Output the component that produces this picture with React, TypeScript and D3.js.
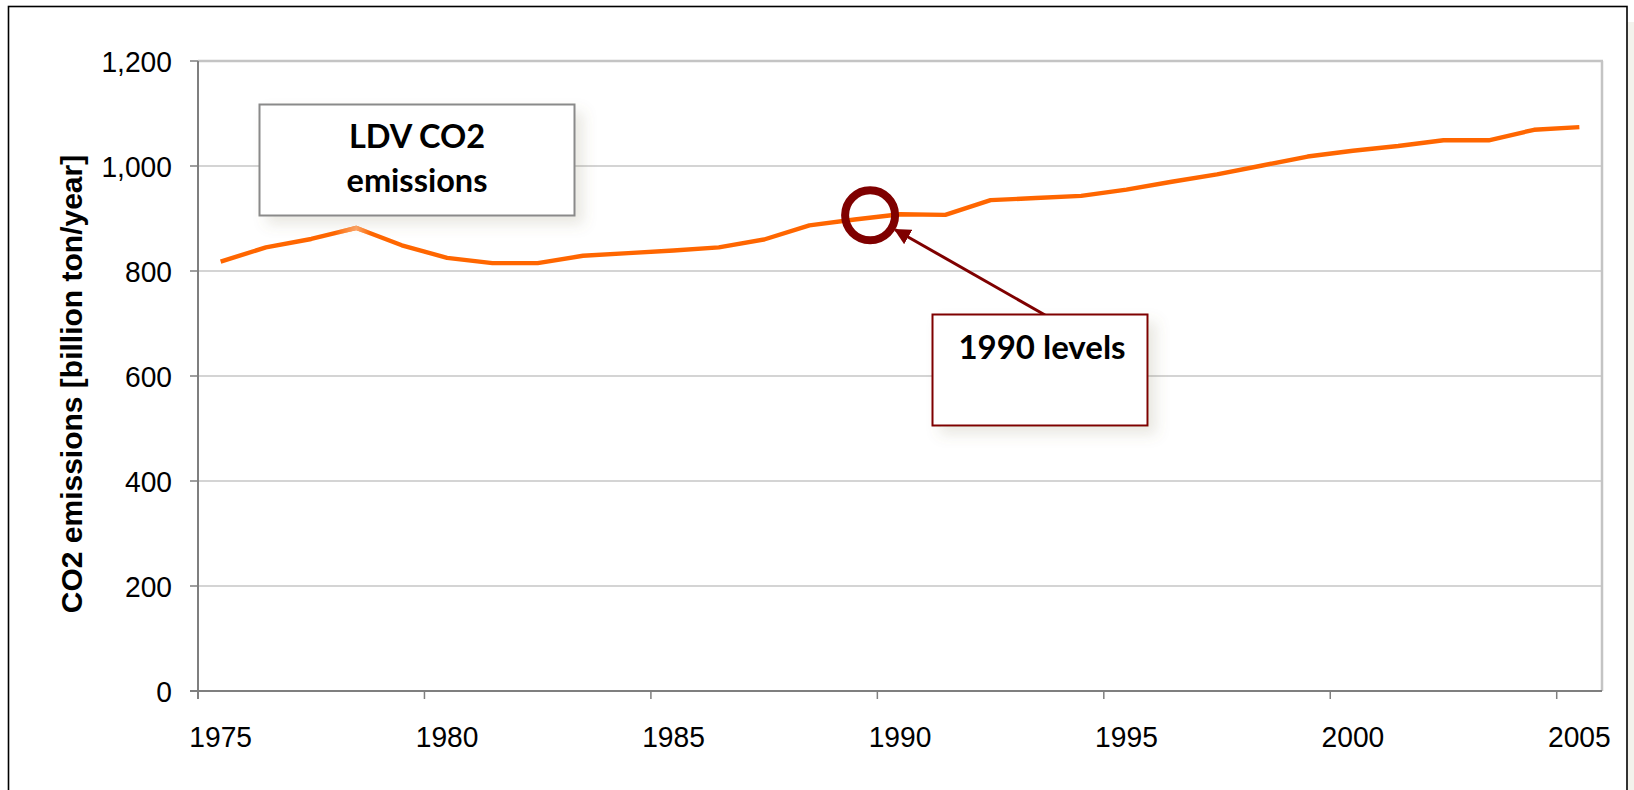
import React from "react";
import * as d3 from "d3";

const years: number[] = [
  1975, 1976, 1977, 1978, 1979, 1980, 1981, 1982, 1983, 1984, 1985, 1986, 1987, 1988, 1989, 1990,
  1991, 1992, 1993, 1994, 1995, 1996, 1997, 1998, 1999, 2000, 2001, 2002, 2003, 2004, 2005,
];
const emissions: number[] = [
  818, 845, 861, 882, 849, 825, 815, 815, 829, 834, 839, 845, 860, 887, 898, 908,
  907, 935, 939, 943, 955, 970, 984, 1001, 1018, 1029, 1038, 1049, 1049, 1069, 1074,
];
const yTicks: number[] = [0, 200, 400, 600, 800, 1000, 1200];
const xTickYears: number[] = [1975, 1980, 1985, 1990, 1995, 2000, 2005];
const yTitle = "CO2 emissions [billion ton/year]";
const boxTitleLines: string[] = ["LDV CO2", "emissions"];
const markerLabel = "1990 levels";
// annotation anchor (circle) in data space
const markerYear = 1989.34;
const markerValue = 906;
// highlighted (lighter) stretch of the line near the 1978 peak
const glowYear = 1978;

const W = 1634;
const H = 790;
const plot = { left: 198, right: 1602, top: 61, bottom: 691 };
const tickFont = "'Liberation Sans', Arial, sans-serif";

export default function App() {
  const x = d3
    .scaleBand<number>()
    .domain(years)
    .range([plot.left, plot.right])
    .paddingInner(0)
    .paddingOuter(0);
  const bw = x.bandwidth();
  const cx = (yr: number) => (x(yr) as number) + bw / 2;
  const y = d3.scaleLinear().domain([0, 1200]).range([plot.bottom, plot.top]);
  const fmt = d3.format(",");

  const line = d3
    .line<number>()
    .x((_, i) => cx(years[i]))
    .y((v) => y(v));
  const pathD = line(emissions) || "";

  // glow segment around the peak
  const gi = years.indexOf(glowYear);
  const gx0 = cx(years[gi - 1]);
  const gx1 = cx(years[gi + 1]);
  const glowD =
    line
      .x((_, i) => cx(years[gi - 1 + i]))
      .y((v) => y(v))([emissions[gi - 1], emissions[gi], emissions[gi + 1]]) || "";

  const baseYear = Math.floor(markerYear);
  const mX = cx(baseYear) + (markerYear - baseYear) * bw;
  const mY = y(markerValue);
  const mR = 25;

  // callout boxes
  const box1 = { x: 259.5, y: 104.5, w: 315, h: 111 };
  const box2 = { x: 932.5, y: 314.5, w: 215, h: 111 };
  const arrowStart = { x: 1045, y: 315 };
  const ang = Math.atan2(arrowStart.y - mY, arrowStart.x - mX);
  const tip = { x: mX + (mR + 4) * Math.cos(ang), y: mY + (mR + 4) * Math.sin(ang) };

  const gxPeak = cx(glowYear);
  const gStart = (gxPeak - 22 - gx0) / (gx1 - gx0);
  const gEnd = (gxPeak + 14 - gx0) / (gx1 - gx0);
  const gMid = (gxPeak - gx0) / (gx1 - gx0);

  return (
    <svg
      width={W}
      height={H}
      style={{ position: "absolute", left: 0, top: 0, display: "block" }}
      xmlns="http://www.w3.org/2000/svg"
    >
      <defs>
        <filter id="shadow" x="-20%" y="-20%" width="150%" height="160%">
          <feDropShadow dx="8" dy="8" stdDeviation="7" floodColor="#7a7050" floodOpacity="0.16" />
        </filter>
        <linearGradient id="glow" gradientUnits="userSpaceOnUse" x1={gx0} x2={gx1} y1={0} y2={0}>
          <stop offset={gStart} stopColor="#ffa566" stopOpacity={0} />
          <stop offset={gMid} stopColor="#ffa566" stopOpacity={1} />
          <stop offset={gEnd} stopColor="#ffa566" stopOpacity={0} />
        </linearGradient>
        <marker
          id="arrowhead"
          viewBox="0 0 10 10"
          refX="9"
          refY="5"
          markerWidth="5.5"
          markerHeight="5.5"
          orient="auto-start-reverse"
          markerUnits="strokeWidth"
        >
          <path d="M0,0 L10,5 L0,10 z" fill="#7f0000" />
        </marker>
      </defs>
      <rect x={0} y={0} width={W} height={H} fill="#ffffff" />
      {/* outer frame shadow */}
      <rect x={1627.5} y={22} width={7} height={H} fill="#f3f2ec" />
      {/* outer frame */}
      <rect x={8.5} y={6.5} width={1618.5} height={H + 20} fill="#ffffff" stroke="#000000" strokeWidth={1.6} />

      {/* gridlines */}
      {yTicks
        .filter((t) => t > 0 && t < 1200)
        .map((t) => (
          <line key={"g" + t} x1={plot.left} x2={plot.right} y1={y(t)} y2={y(t)} stroke="#c6c6c6" strokeWidth={1.3} />
        ))}
      {/* plot area top & right border */}
      <line x1={plot.left} x2={plot.right + 1} y1={y(1200)} y2={y(1200)} stroke="#c4c4c4" strokeWidth={2.5} />
      <line x1={plot.right} x2={plot.right} y1={plot.top} y2={plot.bottom} stroke="#c4c4c4" strokeWidth={2.5} />

      {/* y axis */}
      <line x1={plot.left} x2={plot.left} y1={plot.top} y2={plot.bottom + 8} stroke="#7f7f7f" strokeWidth={2} />
      {yTicks.map((t) => (
        <g key={"yt" + t}>
          <line x1={plot.left - 8} x2={plot.left} y1={y(t)} y2={y(t)} stroke="#7f7f7f" strokeWidth={1.5} />
          <text
            transform={`translate(172, ${y(t)}) scale(0.94, 1)`}
            dy="0.36em"
            textAnchor="end"
            fontFamily={tickFont}
            fontSize={30}
            fill="#000"
          >
            {fmt(t)}
          </text>
        </g>
      ))}
      {/* x axis */}
      <line x1={plot.left - 8} x2={plot.right} y1={plot.bottom} y2={plot.bottom} stroke="#7f7f7f" strokeWidth={2} />
      {xTickYears.map((yr) => (
        <g key={"xt" + yr}>
          <line
            x1={x(yr) as number}
            x2={x(yr) as number}
            y1={plot.bottom}
            y2={plot.bottom + 8}
            stroke="#7f7f7f"
            strokeWidth={1.5}
          />
          <text
            transform={`translate(${cx(yr)}, 747) scale(0.94, 1)`}
            textAnchor="middle"
            fontFamily={tickFont}
            fontSize={30}
            fill="#000"
          >
            {yr}
          </text>
        </g>
      ))}

      {/* y title */}
      <text
        transform={`translate(82, 384) rotate(-90)`}
        textAnchor="middle"
        fontFamily={tickFont}
        fontWeight="bold"
        fontSize={30}
        fill="#000"
      >
        {yTitle}
      </text>

      {/* series */}
      <path d={pathD} fill="none" stroke="#ff6600" strokeWidth={4.4} strokeLinejoin="round" />
      <path d={glowD} fill="none" stroke="url(#glow)" strokeWidth={4.4} strokeLinejoin="round" />

      {/* circle marker */}
      <circle cx={mX} cy={mY} r={mR} fill="none" stroke="#7f0000" strokeWidth={8} />
      {/* arrow */}
      <line
        x1={arrowStart.x}
        y1={arrowStart.y}
        x2={tip.x}
        y2={tip.y}
        stroke="#7f0000"
        strokeWidth={3}
        markerEnd="url(#arrowhead)"
      />

      {/* callout box 1 */}
      <rect
        x={box1.x}
        y={box1.y}
        width={box1.w}
        height={box1.h}
        fill="#ffffff"
        stroke="#8a8a8a"
        strokeWidth={2}
        filter="url(#shadow)"
      />
      {boxTitleLines.map((s, i) => (
        <text
          key={s}
          x={box1.x + box1.w / 2}
          y={148 + i * 44}
          textAnchor="middle"
          fontFamily="Lato, 'Open Sans', sans-serif"
          fontWeight="bold"
          fontSize={32.5}
          fill="#000"
        >
          {s}
        </text>
      ))}

      {/* callout box 2 */}
      <rect
        x={box2.x}
        y={box2.y}
        width={box2.w}
        height={box2.h}
        fill="#ffffff"
        stroke="#7f0000"
        strokeWidth={2}
        filter="url(#shadow)"
      />
      <text
        x={box2.x + box2.w / 2 + 2}
        y={359}
        textAnchor="middle"
        fontFamily="Lato, 'Open Sans', sans-serif"
        fontWeight="bold"
        fontSize={33}
        fill="#000"
      >
        {markerLabel}
      </text>
    </svg>
  );
}
